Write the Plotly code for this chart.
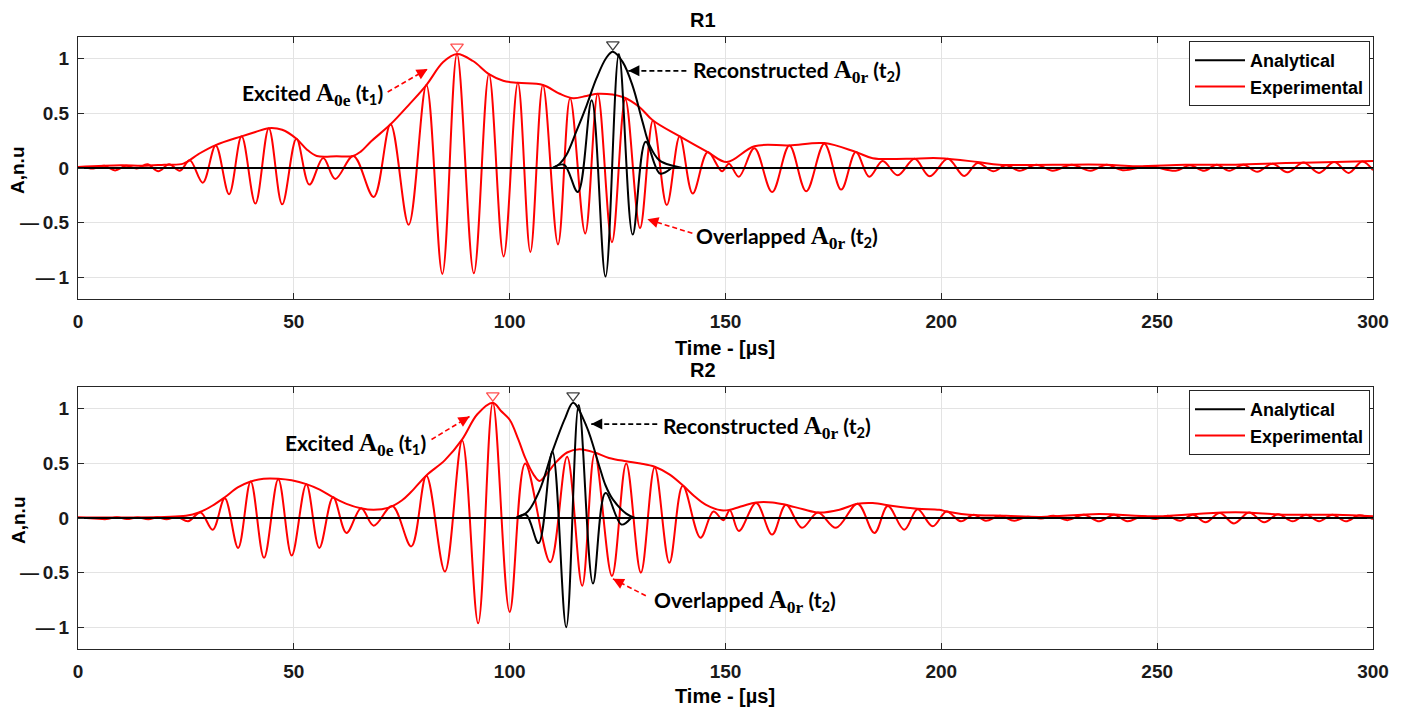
import plotly.graph_objects as go

# ---------------- shared ----------------
time_span = [0.0, 300.0]          # full record, analytical signal is zero outside its packet
baseline = [0.0, 0.0]
x_ticks = [0, 50, 100, 150, 200, 250, 300]
y_ticks = [-1, -0.5, 0, 0.5, 1]
y_ticktext = ["\u2014\u20091", "\u2014\u20090.5", "0", "0.5", "1"]

# ---------------- R1 data ----------------
r1_exp_t = [0.0, 1.1, 3.6, 6.1, 8.6, 11.1, 13.6, 16.1, 18.6, 21.1, 23.6, 25.9, 28.9, 31.9, 35.0, 37.9,
            41.1, 44.2, 47.3, 50.6, 53.6, 56.8, 59.6, 63.8, 68.5, 72.4, 76.6, 80.7, 84.4, 87.8,
            91.7, 95.2, 98.6, 101.9, 104.8, 107.7, 111.2, 114.0, 117.5, 120.4, 123.7, 126.8, 130.2,
            133.2, 136.4, 139.4, 142.4, 145.9, 149.2, 150.8, 153.1, 156.7, 160.8, 164.8, 168.7, 172.9,
            176.8, 180.2, 183.3, 186.4, 189.9, 193.8, 197.3, 201.5, 205.3, 208.4, 212.0, 215.0, 218.1,
            222.0, 225.8, 230.2, 234.6, 238.3, 242.0, 248.2, 254.3, 257.6, 260.9, 263.8, 266.7, 270.0,
            273.2, 276.7, 280.2, 283.9, 287.5, 291.0, 294.4, 297.5, 300.0]
r1_exp_a = [0.005, 0.01, -0.005, 0.02, -0.022, 0.02, -0.005, 0.035, -0.03, 0.035, -0.025, 0.07, -0.134,
            0.207, -0.24, 0.29, -0.326, 0.365, -0.333, 0.268, -0.152, 0.091, -0.10, 0.11, -0.265,
            0.40, -0.52, 0.76, -0.97, 1.044, -0.965, 0.86, -0.81, 0.78, -0.77, 0.76, -0.70, 0.64, -0.60,
            0.68, -0.68, 0.63, -0.55, 0.435, -0.34, 0.29, -0.234, 0.146, -0.03, 0.04, -0.08, 0.18, -0.22,
            0.207, -0.213, 0.222, -0.198, 0.146, -0.08, 0.064, -0.067, 0.085, -0.075, 0.085, -0.073,
            0.046, -0.03, 0.025, -0.025, 0.03, -0.025, 0.03, -0.025, 0.03, -0.02, 0.015, -0.025, 0.025,
            -0.025, 0.03, -0.025, 0.03, -0.035, 0.04, -0.04, 0.05, -0.045, 0.055, -0.045, 0.06, -0.02]
r1_exp_env_t = [0.0, 10.0, 15.0, 20.0, 24.4, 28.0, 31.9, 37.9, 41.1, 44.2, 47.3, 50.6, 53.0, 55.3, 59.9,
                63.7, 65.5, 67.8, 72.4, 76.9, 80.7, 84.6, 87.8, 91.5, 95.2, 98.5, 101.9, 107.7, 111.6,
                114.7, 117.8, 120.6, 126.2, 130.1, 133.2, 139.4, 145.9, 150.3, 156.7, 164.8, 172.9,
                180.2, 184.1, 191.9, 199.5, 208.4, 213.4, 225.8, 238.1, 245.1, 256.6, 268.2, 279.8,
                291.4, 300.0]
r1_exp_env_a = [0.01, 0.025, 0.02, 0.03, 0.04, 0.13, 0.21, 0.29, 0.33, 0.365, 0.35, 0.268, 0.17, 0.11,
                0.107, 0.11, 0.15, 0.24, 0.40, 0.59, 0.76, 0.97, 1.044, 0.98, 0.86, 0.80, 0.78, 0.76,
                0.68, 0.64, 0.66, 0.68, 0.65, 0.557, 0.435, 0.29, 0.146, 0.055, 0.20, 0.207, 0.228,
                0.146, 0.09, 0.085, 0.09, 0.055, 0.03, 0.03, 0.03, 0.015, 0.03, 0.03, 0.045, 0.055, 0.064]
# analytical packet (zero outside 110 .. 137.5 us)
r1_ana_t = [110.0, 112.6, 115.8, 119.0, 122.2, 125.3, 128.5, 131.5, 134.8, 137.5]
r1_ana_a = [0.0, 0.03, -0.22, 0.62, -0.995, 1.044, -0.61, 0.24, -0.05, 0.0]
r1_ana_env_t = [110.0, 111.6, 113.1, 115.4, 117.8, 120.1, 122.4, 123.9, 126.2, 128.5, 130.8,
                132.4, 134.7, 137.8, 140.0]
r1_ana_env_a = [0.0, 0.04, 0.116, 0.33, 0.57, 0.82, 1.01, 1.065, 0.97, 0.75, 0.42, 0.21, 0.07,
                0.02, 0.0]
r1_peak_t = [87.8, 123.9]
r1_peak_a = [1.044, 1.065]

# ---------------- R2 data ----------------
r2_exp_t = [0.0, 3.8, 6.6, 9.0, 11.3, 13.8, 16.3, 18.4, 20.5, 23.0, 25.5, 28.4, 31.2, 34.0, 37.1, 40.0,
            43.1, 46.4, 49.5, 52.9, 55.9, 59.1, 62.2, 65.6, 68.5, 72.8, 77.2, 80.7, 85.0, 89.0, 92.7,
            96.1, 100.0, 103.6, 109.4, 113.3, 116.8, 119.7, 123.7, 127.0, 130.4, 133.6, 137.0,
            140.1, 144.2, 147.2, 149.5, 151.0, 153.1, 157.1, 160.8, 164.0, 167.7, 171.4, 175.6, 180.6,
            184.5, 187.6, 191.4, 194.5, 198.0, 201.2, 204.5, 207.5, 210.3, 213.6, 216.9, 220.0, 223.1,
            226.0, 229.2, 233.0, 236.6, 240.0, 243.1, 246.5, 249.7, 252.5, 255.3, 258.3, 261.2, 264.5,
            267.8, 271.3, 274.8, 278.0, 281.4, 284.5, 287.5, 290.6, 293.7, 296.8, 300.0]
r2_exp_a = [0.005, -0.004, -0.01, 0.008, -0.01, 0.005, -0.012, 0.008, -0.012, 0.01, -0.03, 0.05, -0.107,
            0.18, -0.274, 0.335, -0.365, 0.356, -0.344, 0.31, -0.274, 0.19, -0.137, 0.09, -0.07, 0.11,
            -0.26, 0.387, -0.49, 0.71, -0.965, 1.056, -0.86, 0.50, -0.405, 0.56, -0.62, 0.59,
            -0.53, 0.50, -0.50, 0.466, -0.41, 0.295, -0.18, 0.06, -0.02, 0.07, -0.12, 0.137, -0.152,
            0.122, -0.09, 0.05, -0.09, 0.13, -0.137, 0.11, -0.107, 0.08, -0.076, 0.06, -0.03, 0.03,
            -0.025, 0.02, -0.025, 0.012, -0.005, 0.02, -0.02, 0.03, -0.03, 0.03, -0.03, 0.015, -0.01,
            0.02, -0.025, 0.03, -0.04, 0.045, -0.05, 0.05, -0.04, 0.035, -0.03, 0.03, -0.03, 0.03, -0.03,
            0.025, -0.01]
r2_exp_env_t = [0.0, 20.0, 25.0, 28.0, 31.0, 34.0, 37.0, 40.0, 43.0, 46.4, 49.5, 52.9, 56.0, 59.1, 62.2,
                65.5, 68.5, 72.0, 75.0, 77.2, 80.7, 85.0, 89.0, 92.5, 96.1, 98.0, 100.0, 102.0, 103.6,
                105.5, 106.9, 108.5, 110.5, 113.3, 116.2, 119.7, 123.0, 127.0, 130.3, 133.6, 137.0,
                140.1, 142.8, 145.5, 149.0, 151.0, 154.0, 157.1, 160.9, 164.0, 168.0, 171.7, 176.4,
                180.6, 184.1, 188.8, 194.5, 199.5, 201.2, 206.4, 215.0, 223.1, 236.6, 249.0, 258.0,
                268.2, 279.8, 291.4, 300.0]
r2_exp_env_a = [0.005, 0.01, 0.02, 0.05, 0.11, 0.19, 0.28, 0.335, 0.36, 0.36, 0.345, 0.31, 0.26, 0.19,
                0.13, 0.09, 0.075, 0.095, 0.16, 0.24, 0.39, 0.53, 0.72, 0.95, 1.056, 0.98, 0.90, 0.72,
                0.55, 0.40, 0.34, 0.40, 0.50, 0.60, 0.63, 0.60, 0.55, 0.52, 0.50, 0.47, 0.40, 0.30, 0.20,
                0.12, 0.07, 0.075, 0.11, 0.143, 0.143, 0.12, 0.08, 0.05, 0.076, 0.13, 0.137, 0.11, 0.085,
                0.076, 0.06, 0.03, 0.02, 0.01, 0.037, 0.015, 0.035, 0.052, 0.03, 0.03, 0.015]
r2_ana_t = [101.5, 103.8, 106.7, 109.9, 113.1, 116.0, 119.3, 122.2, 125.9, 128.1]
r2_ana_a = [0.0, 0.03, -0.23, 0.61, -1.0, 1.035, -0.60, 0.23, -0.06, 0.0]
r2_ana_env_t = [101.5, 104.2, 106.9, 109.9, 112.9, 114.7, 117.8, 120.8, 122.2, 123.9, 127.0, 129.0]
r2_ana_env_a = [0.0, 0.06, 0.25, 0.61, 0.92, 1.056, 0.84, 0.47, 0.30, 0.17, 0.04, 0.0]
r2_peak_t = [96.1, 114.7]
r2_peak_a = [1.056, 1.056]

RED = "#ff0000"
BLACK = "#000000"
W, H = 1404, 709

fig = go.Figure()


def add_panel(xa, ya, legend, exp_t, exp_a, env_t, env_a, ana_t, ana_a, aenv_t, aenv_a, pk_t, pk_a):
    spl = dict(width=2, shape="spline", smoothing=1.0)
    fig.add_trace(go.Scatter(x=exp_t, y=exp_a, mode="lines", line=dict(color=RED, **spl),
                             name="Experimental", legend=legend, legendrank=2, xaxis=xa, yaxis=ya))
    fig.add_trace(go.Scatter(x=env_t, y=env_a, mode="lines", line=dict(color=RED, **spl),
                             showlegend=False, xaxis=xa, yaxis=ya))
    fig.add_trace(go.Scatter(x=time_span, y=baseline, mode="lines", line=dict(color=BLACK, width=2),
                             name="Analytical", legend=legend, legendrank=1, legendgroup=legend + "a",
                             xaxis=xa, yaxis=ya))
    fig.add_trace(go.Scatter(x=aenv_t, y=aenv_a, mode="lines", line=dict(color=BLACK, **spl),
                             showlegend=False, xaxis=xa, yaxis=ya))
    fig.add_trace(go.Scatter(x=ana_t, y=ana_a, mode="lines", line=dict(color=BLACK, **spl),
                             showlegend=False, legendgroup=legend + "a", xaxis=xa, yaxis=ya))
    fig.add_trace(go.Scatter(x=pk_t, y=[a + 0.065 for a in pk_a], mode="markers",
                             marker=dict(symbol="triangle-down-open", size=11,
                                         color=["#ff5050", "#404040"], line=dict(width=1.3)),
                             showlegend=False, xaxis=xa, yaxis=ya))


add_panel("x", "y", "legend", r1_exp_t, r1_exp_a, r1_exp_env_t, r1_exp_env_a, r1_ana_t, r1_ana_a,
          r1_ana_env_t, r1_ana_env_a, r1_peak_t, r1_peak_a)
add_panel("x2", "y2", "legend2", r2_exp_t, r2_exp_a, r2_exp_env_t, r2_exp_env_a, r2_ana_t, r2_ana_a,
          r2_ana_env_t, r2_ana_env_a, r2_peak_t, r2_peak_a)

TICKFONT = dict(family="Liberation Sans, Arial", size=19, color="#1a1a1a", weight="bold")
axis_common = dict(showline=True, linecolor="#262626", linewidth=1, mirror="ticks", ticks="inside",
                   ticklen=6, tickcolor="#262626", showgrid=True, gridcolor="#e3e3e3", gridwidth=1,
                   zeroline=False, tickfont=TICKFONT)

LEGFONT = dict(family="Liberation Sans, Arial", size=18, color="#000", weight="bold")
xd = [78 / W, 1373 / W]
fig.update_layout(
    width=W, height=H, margin=dict(l=0, r=0, t=0, b=0, autoexpand=False),
    plot_bgcolor="white", paper_bgcolor="white",
    xaxis=dict(domain=xd, range=[0, 300], tickvals=x_ticks, anchor="y", ticklabelstandoff=5, **axis_common),
    yaxis=dict(domain=[1 - 299 / H, 1 - 37 / H], range=[-1.2, 1.2], tickvals=y_ticks, ticktext=y_ticktext,
               anchor="x", ticklabelstandoff=4, **axis_common),
    xaxis2=dict(domain=xd, range=[0, 300], tickvals=x_ticks, anchor="y2", ticklabelstandoff=5, **axis_common),
    yaxis2=dict(domain=[1 - 649 / H, 1 - 387 / H], range=[-1.2, 1.2], tickvals=y_ticks, ticktext=y_ticktext,
                anchor="x2", ticklabelstandoff=4, **axis_common),
    legend=dict(x=1370 / W, y=1 - 41 / H, xanchor="right", yanchor="top", bgcolor="white",
                bordercolor="#262626", borderwidth=1, font=LEGFONT, tracegroupgap=0, itemwidth=50),
    legend2=dict(x=1370 / W, y=1 - 390 / H, xanchor="right", yanchor="top", bgcolor="white",
                 bordercolor="#262626", borderwidth=1, font=LEGFONT, tracegroupgap=0, itemwidth=50),
)

annotations = []
shapes = []
TFONT = dict(family="Liberation Sans, Arial", size=20, color="#000", weight="bold")
XFONT = dict(family="Liberation Sans, Arial", size=20, color="#000", weight="bold")
YFONT = dict(family="Liberation Sans, Arial", size=19, color="#000", weight="bold")
for yc, title in [(20, "R1"), (370, "R2")]:
    annotations.append(dict(xref="paper", yref="paper", x=703 / W, y=1 - yc / H, text=title, showarrow=False,
                            font=TFONT, xanchor="center", yanchor="middle"))
for yc in [348, 696]:
    annotations.append(dict(xref="paper", yref="paper", x=725 / W, y=1 - yc / H, text="Time - [µs]",
                            showarrow=False, font=XFONT, xanchor="center", yanchor="middle"))
for yc in [170, 520]:
    annotations.append(dict(xref="paper", yref="paper", x=18 / W, y=1 - yc / H, text="A,n.u", textangle=-90,
                            showarrow=False, font=YFONT, xanchor="center", yanchor="middle"))

AFONT = dict(family="Lato, Calibri, sans-serif", size=21, color="#000", weight="bold")


def math_label(word, sub):
    return (word + ' <span style="font-family:Liberation Serif;font-size:25px">A<sub>' + sub
            + '</sub></span> (t<sub>' + ('1' if sub == '0e' else '2') + '</sub>)')


def pointer(xa, ya, tip_t, tip_a, dx, dy, color, text, xshift, yshift, anchor):
    shapes.append(dict(type="line", xref=xa, yref=ya, xsizemode="pixel", ysizemode="pixel",
                       xanchor=tip_t, yanchor=tip_a, x0=dx, y0=-dy, x1=0, y1=0,
                       line=dict(color=color, width=1.6, dash="5px,3px")))
    L = (dx * dx + dy * dy) ** 0.5
    annotations.append(dict(xref=xa, yref=ya, x=tip_t, y=tip_a, ax=dx / L * 10, ay=dy / L * 10, text="",
                            showarrow=True, arrowhead=2, arrowsize=1.1, arrowwidth=2, arrowcolor=color,
                            standoff=0))
    annotations.append(dict(xref=xa, yref=ya, x=tip_t, y=tip_a, text=text, showarrow=False, font=AFONT,
                            xanchor=anchor, yanchor="middle", xshift=xshift, yshift=yshift))


pointer("x", "y", 81.0, 0.907, -40, 23, RED, math_label("Excited", "0e"), -43, -26, "right")
pointer("x", "y", 127.5, 0.89, 58, 0, BLACK, math_label("Reconstructed", "0r"), 63, -1, "left")
pointer("x", "y", 131.9, -0.47, 45, 14, RED, math_label("Overlapped", "0r"), 47, -18, "left")
pointer("x2", "y2", 90.7, 0.93, -38, 23, RED, math_label("Excited", "0e"), -42, -28, "right")
pointer("x2", "y2", 118.9, 0.86, 66, 0, BLACK, math_label("Reconstructed", "0r"), 70, -3, "left")
pointer("x2", "y2", 123.9, -0.557, 33, 17, RED, math_label("Overlapped", "0r"), 39, -23, "left")

fig.update_layout(annotations=annotations, shapes=shapes)
fig.write_html("out.html")
